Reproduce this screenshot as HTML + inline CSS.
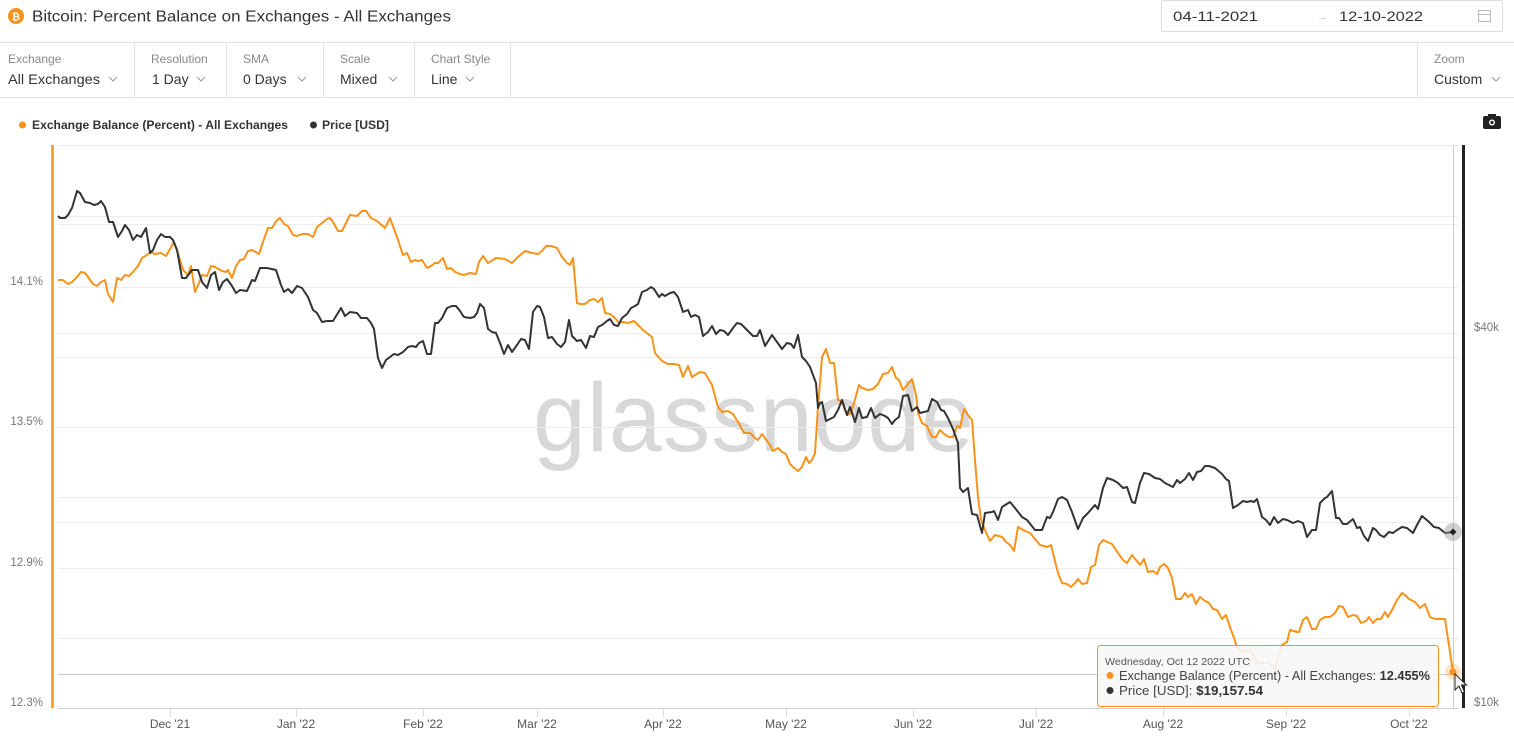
<!DOCTYPE html>
<html><head><meta charset="utf-8">
<style>
html,body{margin:0;padding:0;background:#fff;}
body{width:1514px;height:739px;overflow:hidden;font-family:"Liberation Sans",Arial,sans-serif;}
svg{display:block;}
</style></head>
<body>
<svg width="1514" height="739" viewBox="0 0 1514 739" xmlns="http://www.w3.org/2000/svg" font-family="Liberation Sans, Arial, sans-serif">
<rect width="1514" height="739" fill="#fff"/>
<!-- header -->
<circle cx="16" cy="16" r="8" fill="#f7931a"/>
<text x="16" y="20" font-size="10" font-weight="bold" fill="#fff" text-anchor="middle">₿</text>
<text x="32" y="21.5" font-size="16" fill="#333" textLength="419" lengthAdjust="spacingAndGlyphs">Bitcoin: Percent Balance on Exchanges - All Exchanges</text>
<rect x="1161.5" y="0.5" width="341" height="31" rx="2" fill="#fff" stroke="#ddd"/>
<text x="1173" y="21" font-size="14" fill="#333" textLength="85" lengthAdjust="spacingAndGlyphs">04-11-2021</text>
<text x="1317" y="20" font-size="11" fill="#bbb">→</text>
<text x="1339" y="21" font-size="14" fill="#333" textLength="84" lengthAdjust="spacingAndGlyphs">12-10-2022</text>
<rect x="1478.5" y="10.5" width="12" height="11" fill="none" stroke="#bbb"/>
<line x1="1478" y1="14.5" x2="1491" y2="14.5" stroke="#bbb"/>
<!-- toolbar -->
<line x1="0" y1="42.5" x2="1514" y2="42.5" stroke="#e3e3e3"/>
<line x1="0" y1="97.5" x2="1514" y2="97.5" stroke="#e3e3e3"/>
<g stroke="#e3e3e3">
<line x1="134.5" y1="43" x2="134.5" y2="97"/>
<line x1="226.5" y1="43" x2="226.5" y2="97"/>
<line x1="323.5" y1="43" x2="323.5" y2="97"/>
<line x1="414.5" y1="43" x2="414.5" y2="97"/>
<line x1="510.5" y1="43" x2="510.5" y2="97"/>
<line x1="1417.5" y1="43" x2="1417.5" y2="97"/>
</g>
<g font-size="12" fill="#888">
<text x="8" y="63">Exchange</text>
<text x="151" y="63">Resolution</text>
<text x="243" y="63">SMA</text>
<text x="340" y="63">Scale</text>
<text x="431" y="63">Chart Style</text>
<text x="1434" y="63">Zoom</text>
</g>
<g font-size="14" fill="#333">
<text x="8" y="84" textLength="92" lengthAdjust="spacingAndGlyphs">All Exchanges</text>
<text x="152" y="84">1 Day</text>
<text x="243" y="84">0 Days</text>
<text x="340" y="84">Mixed</text>
<text x="431" y="84">Line</text>
<text x="1434" y="84">Custom</text>
</g>
<g fill="none" stroke="#999" stroke-width="1">
<polyline points="109,77 113,81 117,77"/>
<polyline points="197,77 201,81 205,77"/>
<polyline points="298,77 302,81 306,77"/>
<polyline points="389,77 393,81 397,77"/>
<polyline points="466,77 470,81 474,77"/>
<polyline points="1492,77 1496,81 1500,77"/>
</g>
<!-- legend -->
<circle cx="22.5" cy="125" r="3.5" fill="#f7931a"/>
<text x="32" y="129" font-size="12" font-weight="bold" fill="#333" textLength="256" lengthAdjust="spacingAndGlyphs">Exchange Balance (Percent) - All Exchanges</text>
<circle cx="313.5" cy="125" r="3.5" fill="#333"/>
<text x="322" y="129" font-size="12" font-weight="bold" fill="#333" textLength="67" lengthAdjust="spacingAndGlyphs">Price [USD]</text>
<!-- camera -->
<rect x="1483" y="116" width="18" height="13" rx="2" fill="#222"/>
<rect x="1488" y="114" width="8" height="3" fill="#222"/>
<circle cx="1492" cy="122.5" r="3" fill="#fff"/>
<circle cx="1492" cy="122.5" r="1.6" fill="#222"/>
<!-- watermark -->
<text x="533" y="451" font-size="97" fill="#d8d8d8" letter-spacing="1" textLength="442" lengthAdjust="spacingAndGlyphs">glassnode</text>
<!-- grid -->
<g stroke="#ececec" stroke-width="1">
<line x1="58" y1="145.5" x2="1458" y2="145.5"/>
<line x1="58" y1="216.5" x2="1458" y2="216.5"/>
<line x1="58" y1="224.5" x2="1458" y2="224.5"/>
<line x1="58" y1="287.5" x2="1458" y2="287.5"/>
<line x1="58" y1="333.5" x2="1458" y2="333.5"/>
<line x1="58" y1="357.5" x2="1458" y2="357.5"/>
<line x1="58" y1="427.5" x2="1458" y2="427.5"/>
<line x1="58" y1="497.5" x2="1458" y2="497.5"/>
<line x1="58" y1="522.5" x2="1458" y2="522.5"/>
<line x1="58" y1="568.5" x2="1458" y2="568.5"/>
<line x1="58" y1="638.5" x2="1458" y2="638.5"/>
</g>
<line x1="58" y1="708.5" x2="1458" y2="708.5" stroke="#d0d0d0"/>
<line x1="58" y1="674.5" x2="1458" y2="674.5" stroke="#c8c8c8"/>
<line x1="1453.5" y1="145" x2="1453.5" y2="708" stroke="#cfcfcf"/>
<!-- x ticks -->
<g stroke="#ddd">
<line x1="170.5" y1="709" x2="170.5" y2="717"/>
<line x1="296.5" y1="709" x2="296.5" y2="717"/>
<line x1="423.5" y1="709" x2="423.5" y2="717"/>
<line x1="537.5" y1="709" x2="537.5" y2="717"/>
<line x1="663.5" y1="709" x2="663.5" y2="717"/>
<line x1="786.5" y1="709" x2="786.5" y2="717"/>
<line x1="913.5" y1="709" x2="913.5" y2="717"/>
<line x1="1036.5" y1="709" x2="1036.5" y2="717"/>
<line x1="1163.5" y1="709" x2="1163.5" y2="717"/>
<line x1="1286.5" y1="709" x2="1286.5" y2="717"/>
<line x1="1409.5" y1="709" x2="1409.5" y2="717"/>
</g>
<g font-size="12" fill="#555" text-anchor="middle">
<text x="170" y="728">Dec '21</text>
<text x="296" y="728">Jan '22</text>
<text x="423" y="728">Feb '22</text>
<text x="537" y="728">Mar '22</text>
<text x="663" y="728">Apr '22</text>
<text x="786" y="728">May '22</text>
<text x="913" y="728">Jun '22</text>
<text x="1036" y="728">Jul '22</text>
<text x="1163" y="728">Aug '22</text>
<text x="1286" y="728">Sep '22</text>
<text x="1409" y="728">Oct '22</text>
</g>
<!-- y labels -->
<g font-size="11.5" fill="#777" text-anchor="end">
<text x="43" y="285">14.1%</text>
<text x="43" y="425">13.5%</text>
<text x="43" y="566">12.9%</text>
<text x="43" y="706">12.3%</text>
</g>
<g font-size="11.5" fill="#777">
<text x="1474" y="331">$40k</text>
<text x="1474" y="706">$10k</text>
</g>
<!-- axes -->
<line x1="52.5" y1="145" x2="52.5" y2="708" stroke="#f7931a" stroke-width="2.5"/>
<line x1="1463.5" y1="145" x2="1463.5" y2="708" stroke="#222" stroke-width="3"/>
<!-- series -->
<polyline fill="none" stroke="#f7931a" stroke-width="2" stroke-linejoin="round" points="58,280 63,280 68,284 72,282 77,277 81,272 85,273 88,277 93,284 97,286 101,282 105,280 108,294 113,302 117,278 121,280 125,275 129,276 133,272 138,266 142,258 147,255 151,252 155,254 161,253 166,256 170,249 174,242 178,253 183,270 188,275 191,266 195,292 199,283 202,275 207,276 211,266 215,267 222,271 226,272 228,270 232,278 236,266 240,260 244,259 248,251 252,250 259,254 263,242 268,228 272,228 277,220 280,218 284,224 288,226 293,235 297,236 302,234 308,234 313,237 317,227 322,223 327,219 330,218 333,222 338,231 342,231 350,215 357,216 362,211 366,211 371,218 377,221 385,228 390,218 398,240 403,255 407,253 411,262 415,260 418,261 422,260 427,268 431,266 435,263 438,263 443,258 447,269 451,268 455,272 460,274 464,275 470,273 476,274 479,262 483,256 488,263 496,258 505,259 512,263 518,257 525,251 532,253 538,254 542,251 546,246 551,246 557,248 562,257 567,263 570,265 573,258 577,303 580,304 585,304 590,300 594,299 598,302 602,298 605,313 610,314 614,317 619,323 623,322 628,323 634,321 638,325 643,330 652,337 655,353 662,361 668,364 674,364 679,365 683,377 688,366 692,377 700,372 705,373 712,385 718,407 722,412 728,411 733,414 738,422 744,433 750,433 755,438 758,440 762,434 767,441 770,445 773,451 778,448 782,452 786,454 790,464 793,467 798,471 802,467 806,457 809,463 812,460 815,453 818,407 820,383 822,357 826,349 830,363 834,363 838,400 842,402 847,415 850,414 854,403 859,385 862,388 868,390 873,389 878,384 883,374 888,373 892,367 896,378 899,380 903,390 908,384 912,379 916,395 918,413 922,423 927,426 932,437 936,437 940,430 944,434 949,437 953,437 957,426 960,428 964,409 968,415 972,420 975,460 978,497 981,520 985,530 990,541 995,535 1002,537 1006,542 1010,545 1014,551 1018,527 1025,531 1030,533 1035,539 1040,545 1047,547 1051,545 1054,557 1058,573 1062,583 1067,584 1071,587 1075,583 1078,579 1082,584 1087,583 1091,567 1095,565 1099,545 1103,540 1112,544 1118,553 1123,560 1127,563 1132,555 1136,560 1140,565 1144,559 1148,572 1153,571 1157,574 1160,567 1164,564 1168,568 1172,578 1176,599 1181,599 1185,593 1188,597 1192,594 1196,604 1200,597 1205,601 1209,603 1213,609 1217,610 1222,619 1226,615 1230,627 1234,638 1237,647 1242,652 1250,650 1258,663 1268,663 1275,668 1282,645 1287,642 1290,630 1297,632 1299,632 1303,620 1307,617 1312,629 1316,629 1320,620 1325,617 1330,617 1335,613 1339,606 1343,607 1348,617 1353,615 1357,616 1361,623 1366,621 1369,617 1373,623 1377,619 1381,619 1385,612 1388,617 1392,610 1397,600 1402,593 1405,595 1409,599 1415,602 1420,608 1425,604 1430,617 1435,619 1445,619 1453,672"/>
<polyline fill="none" stroke="#333" stroke-width="2" stroke-linejoin="round" points="58,216 60,218 65,218 68,215 72,208 77,191 80,193 85,202 90,203 94,205 98,204 101,201 105,207 109,222 113,222 118,237 122,231 125,225 129,230 133,240 137,235 141,237 146,228 150,253 153,250 157,240 161,234 165,237 170,237 173,240 177,250 182,278 186,278 192,270 198,270 202,282 207,288 211,275 215,272 219,290 223,282 227,279 232,286 236,293 240,290 247,291 252,280 255,281 260,268 267,268 276,270 281,285 284,292 288,289 292,293 297,286 302,288 308,297 313,310 317,313 322,322 327,321 333,321 341,308 345,316 350,312 357,313 361,318 367,318 371,323 374,329 378,358 382,368 386,360 390,357 394,354 398,355 403,352 408,347 412,346 416,347 419,343 423,341 427,354 431,354 435,323 438,323 442,318 447,308 452,306 456,306 460,311 464,317 470,318 474,317 477,313 480,304 484,308 488,329 492,332 496,333 500,343 504,354 508,345 512,352 517,345 521,339 525,340 529,349 533,312 537,306 540,307 544,317 548,338 552,337 557,344 561,347 565,342 569,320 572,336 577,341 581,340 586,348 590,336 594,337 598,327 602,325 607,321 610,319 614,325 618,326 622,318 627,314 631,308 635,306 638,304 642,292 647,290 651,287 654,289 659,297 662,294 665,296 670,293 674,292 678,297 683,312 688,310 691,317 695,315 699,317 703,336 708,332 712,326 716,334 720,330 724,331 728,335 733,328 737,323 741,324 747,330 753,336 757,336 760,330 765,346 772,335 777,342 782,349 787,343 791,344 794,348 798,335 802,357 806,361 810,367 813,375 816,383 818,408 820,403 822,402 826,421 830,419 834,417 838,410 842,400 847,415 850,407 855,422 859,408 862,418 867,417 871,408 875,418 880,414 885,416 888,418 892,424 895,420 899,417 903,396 908,395 912,411 917,407 920,413 928,411 932,399 937,402 941,410 944,411 948,418 953,429 958,443 960,488 963,492 968,488 972,514 977,515 982,533 985,513 992,512 994,511 998,520 1002,507 1010,502 1015,508 1022,517 1027,520 1035,530 1042,530 1047,517 1050,518 1053,512 1058,499 1062,497 1067,500 1072,512 1078,529 1083,518 1088,513 1095,505 1098,509 1103,488 1107,478 1113,480 1118,483 1123,488 1127,487 1132,502 1135,503 1140,483 1144,473 1149,474 1155,478 1160,479 1165,483 1173,487 1177,480 1180,483 1185,479 1189,473 1193,480 1197,472 1201,471 1205,466 1209,466 1215,468 1222,474 1226,479 1229,481 1233,508 1238,505 1243,501 1247,502 1251,501 1254,502 1257,499 1262,517 1266,520 1270,525 1274,517 1278,523 1283,519 1287,520 1293,523 1298,521 1303,523 1307,537 1312,530 1316,530 1320,503 1325,498 1327,497 1332,491 1336,518 1339,518 1343,524 1347,524 1353,519 1357,528 1360,527 1364,536 1368,541 1373,528 1376,530 1380,535 1384,537 1389,532 1393,533 1397,530 1402,527 1407,528 1413,533 1417,525 1422,516 1428,521 1434,527 1439,528 1445,533 1453,532"/>
<!-- markers -->
<circle cx="1453" cy="532" r="9" fill="#999" fill-opacity="0.45"/>
<path d="M1453,528.5 L1456.5,532 L1453,535.5 L1449.5,532 Z" fill="#222"/>
<circle cx="1453" cy="672" r="8" fill="#f7931a" fill-opacity="0.25"/>
<circle cx="1453" cy="672" r="3.5" fill="#f7931a"/>
<!-- tooltip -->
<rect x="1097.5" y="645.5" width="341" height="61" rx="3" fill="#f7f7f7" fill-opacity="0.9" stroke="#f7931a" stroke-width="1"/>
<text x="1105" y="665" font-size="10" fill="#555" textLength="145" lengthAdjust="spacingAndGlyphs">Wednesday, Oct 12 2022 UTC</text>
<circle cx="1110" cy="675.5" r="3.5" fill="#f7931a"/>
<text x="1119" y="680" font-size="12.5" fill="#444" textLength="311" lengthAdjust="spacingAndGlyphs">Exchange Balance (Percent) - All Exchanges: <tspan font-weight="bold" fill="#333">12.455%</tspan></text>
<circle cx="1110" cy="690.5" r="3.5" fill="#333"/>
<text x="1119" y="695" font-size="12.5" fill="#444" textLength="144" lengthAdjust="spacingAndGlyphs">Price [USD]: <tspan font-weight="bold" fill="#333">$19,157.54</tspan></text>
<!-- cursor -->
<path d="M1455,674 L1455,690 L1459,686 L1462,693 L1464.5,692 L1461.5,685 L1466.5,685 Z" fill="#fff" stroke="#222" stroke-width="1"/>
</svg>
</body></html>
